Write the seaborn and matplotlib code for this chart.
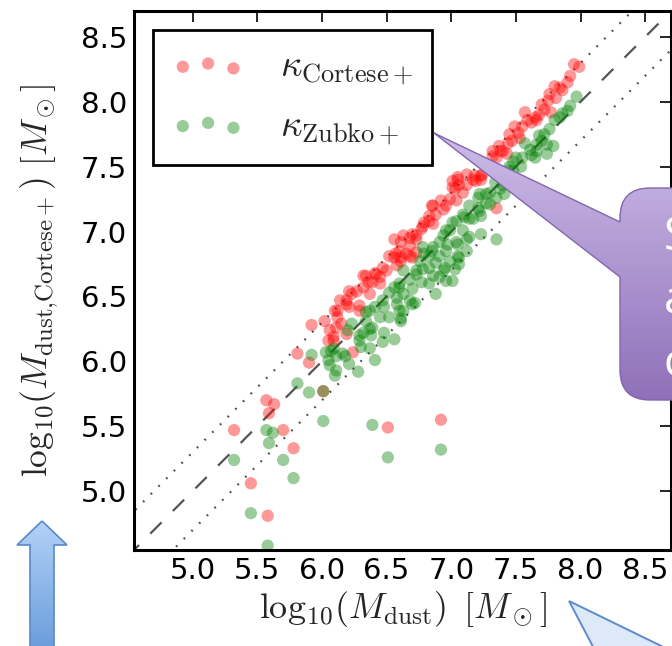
import numpy as np
import pandas as pd
import matplotlib
matplotlib.use("Agg")
import matplotlib.pyplot as plt
from matplotlib.path import Path
from matplotlib.patches import PathPatch, Polygon
from matplotlib.colors import LinearSegmentedColormap
import seaborn as sns

# Dust masses: reference estimate (x) vs. estimates with two opacity laws (y)
cortese_x = [5.32, 5.59, 5.70, 5.78, 5.45, 5.58, 6.51, 6.92, 5.57, 5.63, 5.81, 5.90, 6.01,
             5.92, 6.02, 6.06, 6.05, 6.12, 6.23, 6.19, 6.29, 6.32, 6.36, 6.42, 6.45, 6.50,
             6.57, 6.61, 6.68, 6.73, 6.24, 6.09, 6.56, 6.63, 6.68, 6.73, 6.60, 6.65, 6.70,
             6.78, 6.83, 6.86, 6.88, 6.92, 6.99, 6.96, 7.01, 7.06, 7.12, 7.05, 7.17, 7.23,
             7.32, 7.35, 6.52, 7.95, 7.99, 7.92, 7.90, 7.84, 7.80, 7.76, 7.75, 7.70, 7.72,
             7.68, 7.77, 7.57, 7.65, 7.62, 7.55, 7.49, 7.52, 7.45, 7.53, 7.44, 7.37, 7.40,
             7.32, 7.35, 7.43, 7.12, 7.18, 7.24, 7.01, 6.70, 6.21, 6.15, 6.29,
             7.05, 7.19, 7.23, 7.03, 7.09, 7.04, 6.85, 6.94, 6.83, 6.79, 6.86, 6.77, 6.73,
             6.61, 6.68, 6.56, 6.61, 6.58, 6.47, 6.41, 6.34, 6.45, 6.39, 6.32, 6.27, 6.37,
             6.19, 6.14, 6.21, 6.10, 6.12, 6.11, 6.19, 6.09,
             7.86, 7.81, 7.66, 7.59, 7.47, 7.38]
cortese_y = [5.47, 5.60, 5.47, 5.33, 5.06, 4.81, 5.49, 5.55, 5.70, 5.67, 6.06, 5.99, 5.77,
             6.28, 6.31, 6.24, 6.16, 6.39, 6.52, 6.44, 6.43, 6.66, 6.61, 6.67, 6.60, 6.70,
             6.83, 6.80, 6.81, 6.84, 6.07, 6.19, 6.94, 6.97, 6.95, 6.94, 6.85, 6.83, 6.80,
             7.04, 7.08, 7.20, 7.13, 7.24, 7.25, 7.20, 7.34, 7.36, 7.36, 7.42, 7.40, 7.40,
             7.58, 7.18, 6.81, 8.29, 8.27, 8.20, 8.15, 8.11, 8.12, 8.06, 8.01, 7.98, 7.94,
             7.90, 7.92, 7.92, 7.88, 7.84, 7.81, 7.81, 7.76, 7.75, 7.72, 7.68, 7.66, 7.62,
             7.62, 7.57, 7.60, 7.44, 7.43, 7.44, 7.39, 6.98, 6.54, 6.29, 6.39,
             7.40, 7.39, 7.43, 7.33, 7.30, 7.24, 7.20, 7.17, 7.12, 7.07, 7.06, 7.02, 6.97,
             6.92, 6.89, 6.80, 6.77, 6.74, 6.72, 6.68, 6.66, 6.65, 6.61, 6.57, 6.54, 6.52,
             6.47, 6.47, 6.42, 6.39, 6.34, 6.26, 6.21, 6.16,
             8.09, 8.03, 7.86, 7.86, 7.70, 7.62]

zubko_x = [5.32, 5.57, 5.62, 5.59, 5.70, 5.78, 5.45, 5.58, 6.01, 6.39, 6.51, 6.92, 5.81,
           5.90, 6.01, 5.92, 6.03, 6.06, 6.10, 6.09, 6.05, 6.11, 6.18, 6.21, 6.28, 6.41,
           6.23, 6.20, 6.29, 6.37, 6.48, 6.56, 6.52, 6.61, 6.63, 6.70, 6.88, 6.83, 6.86,
           6.77, 6.73, 6.60, 6.58, 6.47, 6.41, 6.34, 7.35, 7.23, 7.14, 7.12, 7.06, 7.03,
           6.94, 6.88, 6.85, 6.96, 7.04, 7.09, 7.14, 7.22, 7.30, 7.27, 7.35, 7.40, 7.48,
           7.41, 6.96, 7.01, 7.09, 7.21, 6.78, 6.63, 7.97, 7.92, 7.90, 7.84, 7.80, 7.76,
           7.72, 7.68, 7.74, 7.79, 7.57, 7.66, 7.66, 7.61, 7.74, 7.65, 7.50, 7.48, 7.54,
           7.45, 7.06, 7.01, 7.34, 7.42, 6.83, 6.78,
           7.22, 7.30, 7.27, 7.21, 7.14, 7.23, 7.17, 7.10, 7.04, 7.12, 6.99, 6.94, 7.05,
           6.97, 6.91, 6.86, 6.91, 6.79, 6.76, 7.05, 6.99, 6.95, 6.91, 6.96, 6.83, 6.73,
           6.68, 6.70, 6.60, 6.63, 6.56, 6.52, 6.58, 6.68, 6.72, 6.60, 6.61, 6.48, 6.45,
           6.37, 6.34, 6.39, 6.47, 6.38, 6.32, 6.29, 6.37, 6.16, 6.30, 6.07, 6.11,
           7.86, 7.70, 7.62, 7.55, 7.44, 7.38]
zubko_y = [5.24, 5.47, 5.45, 5.37, 5.24, 5.10, 4.83, 4.58, 5.54, 5.51, 5.26, 5.32, 5.83,
           5.76, 5.77, 6.05, 6.07, 5.97, 5.89, 6.10, 6.01, 5.93, 6.04, 5.98, 5.92, 6.01,
           6.29, 6.24, 6.20, 6.25, 6.22, 6.17, 6.34, 6.33, 6.39, 6.44, 6.52, 6.60, 6.66,
           6.61, 6.70, 6.57, 6.49, 6.47, 6.42, 6.38, 6.94, 6.98, 6.96, 6.85, 6.80, 6.71,
           6.70, 6.76, 6.85, 6.85, 6.92, 7.01, 7.10, 7.16, 7.21, 7.29, 7.26, 7.36, 7.47,
           7.29, 7.01, 7.07, 7.13, 7.26, 6.88, 6.70, 8.04, 7.97, 7.93, 7.88, 7.86, 7.79,
           7.75, 7.74, 7.67, 7.66, 7.68, 7.67, 7.62, 7.63, 7.60, 7.57, 7.57, 7.54, 7.50,
           7.50, 6.75, 6.62, 7.38, 7.44, 6.81, 6.71,
           7.29, 7.30, 7.22, 7.18, 7.20, 7.12, 7.10, 7.11, 7.08, 6.94, 7.01, 6.97, 6.90,
           6.90, 6.92, 6.88, 6.81, 6.83, 6.77, 6.81, 6.77, 6.72, 6.65, 6.62, 6.72, 6.67,
           6.63, 6.56, 6.60, 6.52, 6.57, 6.53, 6.44, 6.47, 6.45, 6.39, 6.31, 6.42, 6.34,
           6.39, 6.31, 6.26, 6.15, 6.20, 6.22, 6.16, 6.10, 6.06, 6.11, 6.08, 6.04,
           7.91, 7.70, 7.59, 7.57, 7.47, 7.33]

series_labels = [r"$\kappa_{\rm Cortese+}$", r"$\kappa_{\rm Zubko+}$"]
series_colors = ["#ff0000", "#008000"]
axis_lo, axis_hi = 4.546, 8.70
offset = 0.3
tick_values = [5.0, 5.5, 6.0, 6.5, 7.0, 7.5, 8.0, 8.5]

df = pd.DataFrame({
    "x": cortese_x + zubko_x,
    "y": cortese_y + zubko_y,
    "kappa": [series_labels[0]] * len(cortese_x) + [series_labels[1]] * len(zubko_x),
})

sns.set_style("white")
plt.rcParams["font.family"] = ["DejaVu Sans"]
plt.rcParams["mathtext.fontset"] = "cm"

fig = plt.figure(figsize=(6.72, 6.46), dpi=100)
ax = fig.add_axes([134 / 672, 96 / 646, 537 / 672, 539 / 646])

# one-to-one relation and +/- 0.3 dex envelope
ref = np.array([axis_lo - 1, axis_hi + 1])
ax.plot(ref, ref, color="0.33", lw=1.6, dashes=(7.2, 7.2), zorder=1)
ax.plot(ref, ref + offset, color="0.3", lw=1.6, dashes=(0.8, 4.1), zorder=1)
ax.plot(ref, ref - offset, color="0.3", lw=1.6, dashes=(0.8, 4.1), zorder=1)

sns.scatterplot(data=df, x="x", y="y", hue="kappa", palette=series_colors,
                hue_order=series_labels, s=78, alpha=0.4, linewidth=0,
                legend=False, ax=ax, zorder=2)

ax.set_xlim(axis_lo, axis_hi)
ax.set_ylim(axis_lo, axis_hi)
ax.set_xticks(tick_values)
ax.set_yticks(tick_values)
ax.set_xticklabels([f"{v:.1f}" for v in tick_values])
ax.set_yticklabels([f"{v:.1f}" for v in tick_values])
ax.tick_params(direction="in", length=8, width=1.2, labelsize=21, pad=5,
               top=True, right=True, colors="black")
for sp in ax.spines.values():
    sp.set_linewidth(2.2)
    sp.set_color("black")

ax.set_xlabel(r"$\mathrm{log}_{10}(M_{\rm dust})\ \,[M_\odot]$", fontsize=26, labelpad=3)
ax.set_ylabel(r"$\mathrm{log}_{10}(M_{\mathrm{dust{,}Cortese+}})\ [M_\odot]$", fontsize=25.5,
              labelpad=15)

handles = [ax.scatter([], [], s=78, color=c, alpha=0.4, linewidths=0) for c in series_colors]
leg = ax.legend(handles, series_labels, loc="upper left", bbox_to_anchor=(0.035, 0.965),
                borderaxespad=0, scatterpoints=3, scatteryoffsets=[0.375, 0.5, 0.3125],
                fontsize=27, frameon=True, fancybox=False, edgecolor="black",
                handlelength=1.95, handletextpad=0.93, borderpad=0.5, labelspacing=0.55)
leg.get_frame().set_linewidth(2.0)
leg.get_frame().set_alpha(1)

# overlay callouts drawn in pixel coordinates
ov = fig.add_axes([0, 0, 1, 1], zorder=10)
ov.set_xlim(0, 672)
ov.set_ylim(646, 0)
ov.axis("off")


def gradient_fill(path, top, bottom, y0, y1, edge, lw):
    patch = PathPatch(path, facecolor="none", edgecolor=edge, lw=lw, zorder=3)
    ov.add_patch(patch)
    cmap = LinearSegmentedColormap.from_list("g", [top, bottom])
    grad = np.linspace(0, 1, 256).reshape(-1, 1)
    im = ov.imshow(grad, cmap=cmap, extent=(0, 672, y1, y0), aspect="auto",
                   zorder=2, interpolation="bilinear")
    im.set_clip_path(patch)
    ov.set_xlim(0, 672)
    ov.set_ylim(646, 0)


# purple speech bubble
r = 30
L, T, B, R = 620, 188, 400, 700
verts = [(434, 133), (L, 277), (L, B - r), (L, B), (L + r, B), (R, B), (R, T),
         (L + r, T), (L, T), (L, T + r), (L, 222), (434, 133)]
codes = [Path.MOVETO, Path.LINETO, Path.LINETO, Path.CURVE3, Path.CURVE3, Path.LINETO,
         Path.LINETO, Path.LINETO, Path.CURVE3, Path.CURVE3, Path.LINETO, Path.CLOSEPOLY]
gradient_fill(Path(verts, codes), "#cdbde8", "#8f70b9", 130, 402, "#8366ad", 1.0)
for txt, yb in [("S", 250), ("a", 313), ("c", 376)]:
    ov.text(664, yb, txt, color="white", fontsize=33, family="Open Sans",
            va="baseline", ha="left", zorder=5)

# blue up arrow
arrow = [(42, 521), (67, 545), (54, 545), (54, 660), (30, 660), (30, 545), (17, 545), (42, 521)]
gradient_fill(Path(arrow, closed=True), "#b3d2f8", "#6c9edc", 520, 646, "#5a88c8", 1.2)

# light blue pointer at the bottom right
ov.add_patch(Polygon([(569, 601), (690, 660), (600, 660)], closed=True,
                     facecolor="#dde8f9", edgecolor="#5b8bd0", lw=1.4, zorder=3))

fig.savefig("out.png", dpi=100)
